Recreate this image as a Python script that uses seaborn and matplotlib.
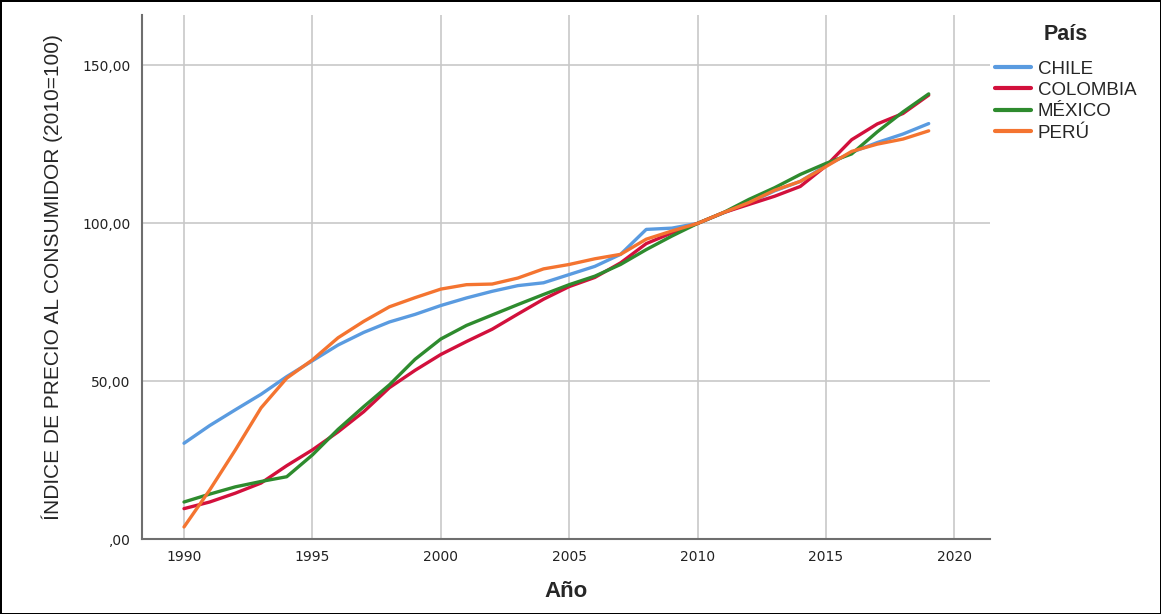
import matplotlib
matplotlib.use("Agg")
import matplotlib.pyplot as plt
import seaborn as sns
import pandas as pd

# ---------------------------
# Data: consumer price index (2010=100)
# ---------------------------
years = list(range(1990, 2020))

chile = [30.4, 36.0, 41.0, 45.9, 51.5, 56.5, 61.5, 65.5, 68.8, 71.2,
         74.0, 76.4, 78.5, 80.3, 81.2, 83.8, 86.4, 90.2, 98.1, 98.5,
         100.0, 103.3, 106.5, 110.3, 113.3, 118.3, 122.5, 125.6, 128.3, 131.6]
colombia = [9.7, 11.8, 14.6, 17.8, 23.3, 28.3, 34.0, 40.4, 48.0, 53.5,
            58.5, 62.6, 66.5, 71.3, 76.0, 80.0, 82.9, 87.5, 93.6, 97.0,
            100.0, 103.4, 106.0, 108.6, 111.7, 118.2, 126.5, 131.5, 134.8, 140.6]
mexico = [11.8, 14.3, 16.6, 18.3, 19.8, 26.7, 34.8, 42.0, 48.9, 57.0,
          63.4, 67.7, 71.0, 74.3, 77.5, 80.6, 83.3, 87.0, 91.7, 96.0,
          100.0, 103.4, 107.6, 111.3, 115.5, 119.0, 122.0, 129.0, 135.3, 141.0]
peru = [3.9, 15.6, 28.3, 41.6, 51.0, 56.8, 63.8, 69.0, 73.6, 76.5,
        79.2, 80.6, 80.8, 82.7, 85.6, 87.0, 88.8, 90.2, 95.0, 97.6,
        100.0, 103.4, 106.6, 110.5, 113.3, 118.0, 122.8, 125.1, 126.7, 129.3]

countries = ["CHILE", "COLOMBIA", "MÉXICO", "PERÚ"]
colors = ["#5a9be0", "#d2103c", "#2e8b2e", "#f47430"]
y_ticks = [0, 50, 100, 150]
y_tick_labels = [",00", "50,00", "100,00", "150,00"]
x_ticks = [1990, 1995, 2000, 2005, 2010, 2015, 2020]

df = pd.DataFrame({
    "Año": years * 4,
    "IPC": chile + colombia + mexico + peru,
    "País": [c for c in countries for _ in years],
})

# ---------------------------
# Plot
# ---------------------------
sns.set_style("white")
plt.rcParams["font.family"] = ["Liberation Sans", "DejaVu Sans"]

fig = plt.figure(figsize=(11.61, 6.14), dpi=100, edgecolor="black", linewidth=2)
ax = fig.add_axes([0.122, 0.1217, 0.731, 0.854])

sns.lineplot(data=df, x="Año", y="IPC", hue="País", hue_order=countries,
             palette=colors, linewidth=2.4, ax=ax)

ax.set_xlim(1988.35, 2021.4)
ax.set_ylim(0, 166)
ax.set_xticks(x_ticks)
ax.set_yticks(y_ticks)
ax.set_yticklabels(y_tick_labels)
ax.tick_params(axis="both", length=0, colors="#222222", pad=8)
for lbl in ax.get_xticklabels() + ax.get_yticklabels():
    lbl.set_fontfamily("DejaVu Sans")
    lbl.set_fontsize(10)

ax.grid(True, color="#c8c8c8", linewidth=1.2)
ax.set_axisbelow(True)
for side in ["top", "right"]:
    ax.spines[side].set_visible(False)
for side in ["left", "bottom"]:
    ax.spines[side].set_color("#6e6e6e")
    ax.spines[side].set_linewidth(1.5)

ax.set_xlabel("Año", fontsize=16, fontweight="bold", labelpad=12)
ax.set_ylabel("ÍNDICE DE PRECIO AL CONSUMIDOR (2010=100)", fontsize=15,
              labelpad=14)

leg = ax.legend(title="País", loc="upper left", bbox_to_anchor=(1.006, 0.982),
                frameon=False, fontsize=13.5, handlelength=1.9, handletextpad=0.35,
                labelspacing=0.22, borderaxespad=0.0, borderpad=0.0)
leg.get_title().set_fontweight("bold")
leg.get_title().set_fontsize(15.5)
leg._legend_box.sep = 11
for line in leg.get_lines():
    line.set_linewidth(3)

fig.savefig("out.png", dpi=100)
